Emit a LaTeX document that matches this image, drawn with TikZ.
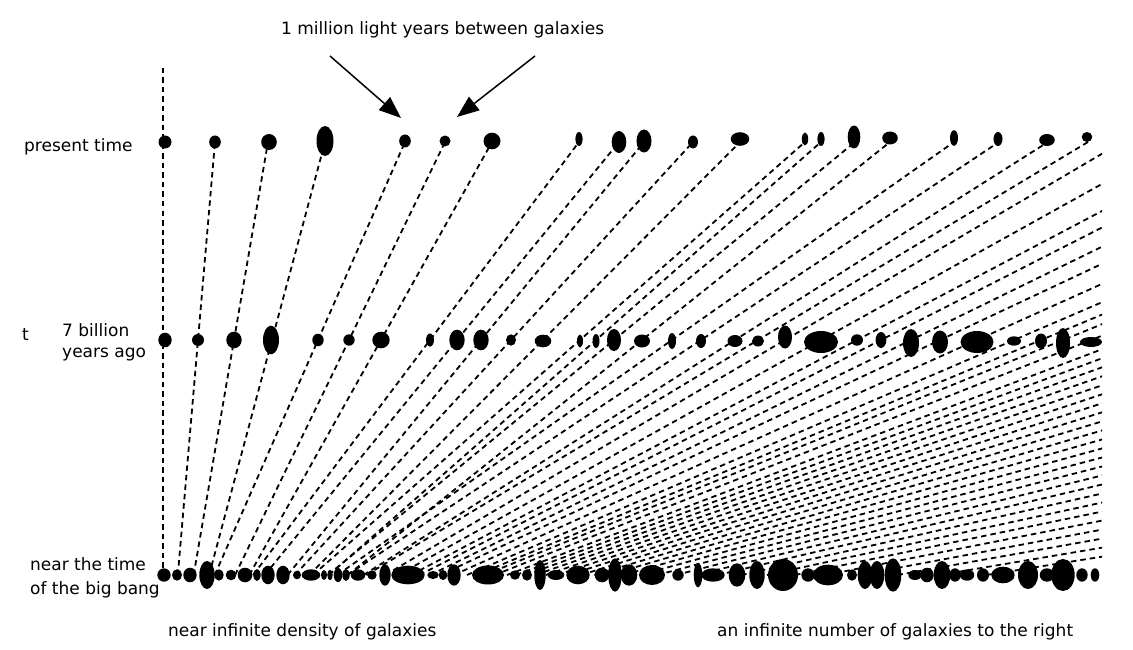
\documentclass[tikz,border=0pt]{standalone}
\usepackage{fontspec}
\setmainfont{DejaVu Sans}
\usetikzlibrary{arrows.meta}
\begin{document}
\begin{tikzpicture}[x=1pt,y=-1pt,
  gline/.style={line width=1.8pt,dash pattern=on 5.5pt off 4pt},
  lbl/.style={font=\fontsize{17}{21}\selectfont,inner sep=0pt,anchor=base west},
  arr/.style={line width=1.5pt,-{Triangle[length=22pt,width=17pt]}},
  gal/.style={fill=black}]
\useasboundingbox (0,0) rectangle (1133,650);

\begin{scope}
\clip (0,0) rectangle (1102,650);
% vertical time axis through the home galaxy
\draw[gline] (163,68) -- (163,575);
% world lines through galaxies seen at present time and 7 billion years ago
\foreach \xt/\xm in {215/198,268/234,325/272,405/318,445/349,492/381,579/430,619/457,644/481,693/511,740/543,805/580,821/596,855/614,890/642,954/672,999/701,1048/735,1088/758} {
  \pgfmathsetmacro\xb{\xm-(\xt-\xm)/198*235}
  \draw[gline] (\xb,575) -- (\xt,142);
}
% world lines through galaxies seen 7 billion years ago only
\foreach \xm in {785,821,857,881,911,940,977,1014,1041,1063,1091} {
  \pgfmathsetmacro\xb{163+(\xm-163)/2.8}
  \pgfmathsetmacro\xt{163+4.317*(\xb-163)}
  \draw[gline] (\xb,575) -- (\xt,142);
}
% world lines from galaxies near the big bang only
\foreach \xb in {507,516,525.4,535.3,545.8,556.9,568.6,581.1,594.4,608.6,623.7,639.8,657.2,675.8,695.9,717.6,741.2,766.9,795,825.8,859.8,897.4,939.4,986.5} {
  \pgfmathsetmacro\xt{163+4.317*(\xb-163)}
  \draw[gline] (\xb,575) -- (\xt,142);
}

% galaxies at present time
\foreach \x/\y/\a/\b in {165/142/6.5/6.5,215/142/5.8/6.5,269/142/7.8/8,325/141/8.5/15,405/141/5.8/6.5,445/141/5.5/5.5,492/141/8.5/8.3,579/139/3.6/7,619/142/7.3/11,644/141/7.5/11.5,693/142/5/6.5,740/139/9.3/6.8,805/139/3.2/6.5,821/139/3.6/7,854/137/6.3/11.5,890/138/7.8/6.5,954/138/4/7.8,998/139/4.5/7,1047/140/7.8/6,1087/137/5.3/5}
  \fill[gal] (\x,\y) ellipse [x radius=\a pt,y radius=\b pt];

% galaxies 7 billion years ago
\foreach \x/\y/\a/\b in {165/340/6.7/7.3,198/340/6/6,234/340/7.7/8.3,271/340/8/14.3,318/340/5.7/6.3,349/340/5.7/5.7,381/340/8.7/8.3,430/340/4/6.5,457/340/7.7/10.3,481/340/7.7/10.3,511/340/5/5.7,543/341/8.3/6.3,580/341/3/6.5,596/341/3.5/7,614/340/7/11,642/341/8/6.5,672/341/4/8,701/341/5/7,735/341/7.5/6,758/341/6/5.5,785/337/7/11.5,821/342/17/11,857/340/6/5.7,881/340/5.4/8,911/343/8/14,940/342/8/11.5,977/342/16.5/11,1014/341/7/4.7,1041/341/6/7.5,1063/343/7/15,1091/342/11/5}
  \fill[gal] (\x,\y) ellipse [x radius=\a pt,y radius=\b pt];

% galaxies near the time of the big bang
\foreach \x/\a/\b in {164/6.7/6.7,177/5/5.7,190/6.7/7.3,207/7.7/14,219/4.7/5.7,231/5.3/5.3,245/7.3/7.3,257/3.7/6,268/6.7/9.3,283/6.7/9.3,297/4/4.3,311/9.3/5.7,324/3/5,330/2.7/5.3,338/4.3/7,346/3.7/6,358/7.3/5.7,372/4.7/4.7,385/5.7/10.7,408/16.7/9.3,433/5.7/4,443/4.3/5,454/6.7/10.7,488/16/9.5,515/5/4.7,527/5/5.7,540/5.7/15,556/8.3/5,578/11.7/9.3,602/7.3/7.3,615/6.7/16.7,629/8.3/10.7,652/13/10,678/5.7/5.7,698/4.3/12.3,713/11.7/6.7,737/8.3/11.7,757/7.7/14,783/15/16,808/6.7/6.7,828/15/10.3,852/5/5.7,865/7.3/14,877/7.3/14,893/8.3/16.7,915/6.7/5,927/6.7/7.3,942/8.3/14,955/5.7/6.7,967/7.3/5.7,983/6/6.7,1003/11.7/8.3,1028/10/14,1047/7.3/6.7,1063/11.7/16,1082/5.7/6.7,1095/4.3/6.7}
  \fill[gal] (\x,575) ellipse [x radius=\a pt,y radius=\b pt];
\end{scope}

% labels
\node[lbl] (title) at (281,35) {1 million light years between galaxies};
\node[lbl] (present) at (24,152) {present time};
\node[lbl] (tlbl) at (22,340) {t};
\node[lbl] (seven) at (62,336) {7 billion};
\node[lbl] (yago) at (62,357) {years ago};
\node[lbl] (near) at (30,570) {near the time};
\node[lbl] (bang) at (30,594) {of the big bang};
\node[lbl] (dens) at (168,636) {near infinite density of galaxies};
\node[lbl] (inf) at (717,636) {an infinite number of galaxies to the right};

% arrows
\coordinate (a1s) at (330,56);
\coordinate (a1e) at (401,118);
\coordinate (a2s) at (535,56);
\coordinate (a2e) at (457,117);
\draw[arr] (a1s) -- (a1e);
\draw[arr] (a2s) -- (a2e);
\end{tikzpicture}
\end{document}
